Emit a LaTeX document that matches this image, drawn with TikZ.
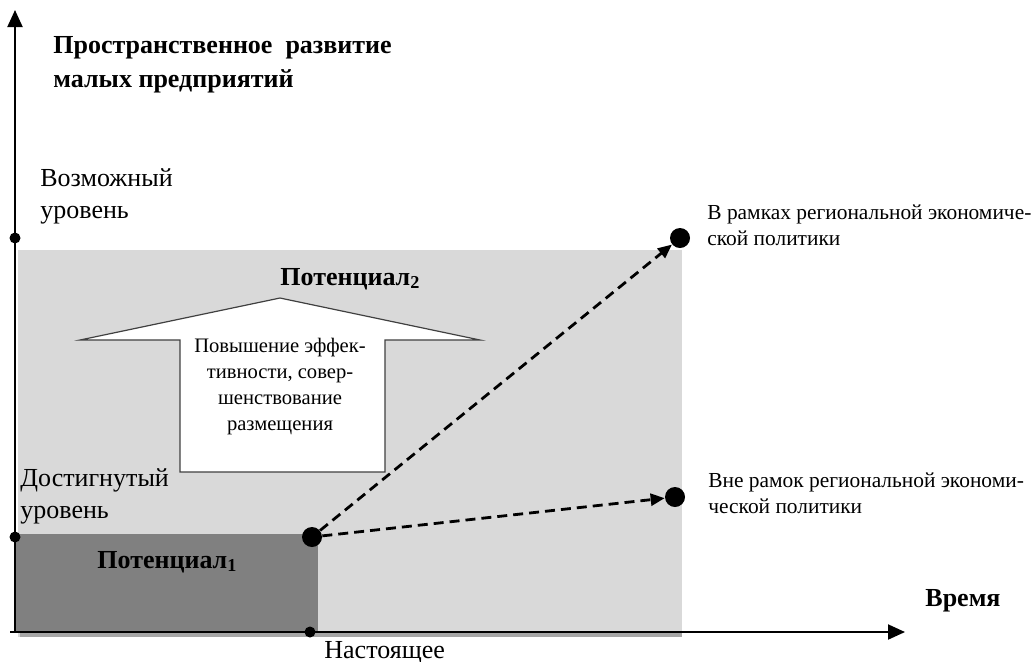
\documentclass[tikz,border=0pt]{standalone}
\usepackage{fontspec}
\setmainfont{Liberation Serif}
\usetikzlibrary{arrows.meta}
\definecolor{mllightgray}{RGB}{217,217,217}
\definecolor{mldarkgray}{RGB}{128,128,128}
\definecolor{mlshadow}{RGB}{166,166,166}
\definecolor{mledge}{RGB}{64,64,64}

\tikzset{
  levellabel/.style={font=\fontsize{13}{16}\selectfont, align=left, inner sep=0pt, anchor=base west},
  sidelabel/.style={font=\fontsize{10.7}{12.8}\selectfont, align=left, inner sep=0pt, anchor=base west},
  biglabel/.style={font=\bfseries\fontsize{13}{17}\selectfont, align=left, inner sep=0pt, anchor=base west},
  dot/.style={circle, fill=black, inner sep=0pt, minimum size=5.5pt},
  bigdot/.style={circle, fill=black, inner sep=0pt, minimum size=10pt},
  path/.style={dashed, dash pattern=on 5pt off 3pt, line width=1.4pt, -{Triangle[length=7pt,width=6pt]}}
}

\begin{document}
\begin{tikzpicture}[x=0.5pt, y=-0.5pt]
\useasboundingbox (0,0) rectangle (1032,661);

% Potential areas
\fill[mllightgray] (18,250) rectangle (682,637);
\fill[mlshadow] (20,632) rectangle (682,637);
\fill[mldarkgray] (15,534) rectangle (318,632);

% Axes
\coordinate (origin) at (15,632);
\coordinate (ytop) at (15,10);
\coordinate (xleft) at (10,632);
\coordinate (xright) at (905,632);
\draw[line width=1pt, -{Triangle[length=8.5pt,width=7.5pt]}] (xleft) -- (xright);
\draw[line width=1pt, -{Triangle[length=8.5pt,width=7.5pt]}] (origin) -- (ytop);

\node[biglabel] (ytitle) at (53,87) {Пространственное~ развитие\\малых предприятий};
\node[biglabel] (xtitle) at (925,606) {Время};

% Levels
\node[dot] (possible) at (15,238) {};
\node[levellabel] (possiblelbl) at (40,218) {Возможный\\уровень};
\node[dot] (reached) at (15,537) {};
\node[levellabel] (reachedlbl) at (20,518) {Достигнутый\\уровень};
\node[dot] (present) at (310,632) {};
\node[levellabel] (presentlbl) at (324,658) {Настоящее};

\node[biglabel] (pot1) at (97,568) {Потенциал\textsubscript{1}};
\node[biglabel] (pot2) at (280,285) {Потенциал\textsubscript{2}};

% Growth arrow
\draw[fill=white, draw=mledge, line width=0.6pt] (180,472) -- (180,340) -- (80,340) -- (280,298)
  -- (480,340) -- (385,340) -- (385,472) -- cycle;
\node[font=\fontsize{10.3}{13}\selectfont, align=center, inner sep=0pt, anchor=base] (growth) at (280,430)
  {Повышение эффек-\\тивности, совер-\\шенствование\\размещения};

% Scenarios
\node[bigdot] (now) at (312,537) {};
\node[bigdot] (inside) at (680,238) {};
\node[bigdot] (outside) at (675,497) {};
\draw[path] (now) -- (inside);
\draw[path] (now) -- (outside);
\node[sidelabel] (insidelbl) at (707,245) {В рамках региональной экономиче-\\ской политики};
\node[sidelabel] (outsidelbl) at (708,513) {Вне рамок региональной экономи-\\ческой политики};
\end{tikzpicture}
\end{document}
